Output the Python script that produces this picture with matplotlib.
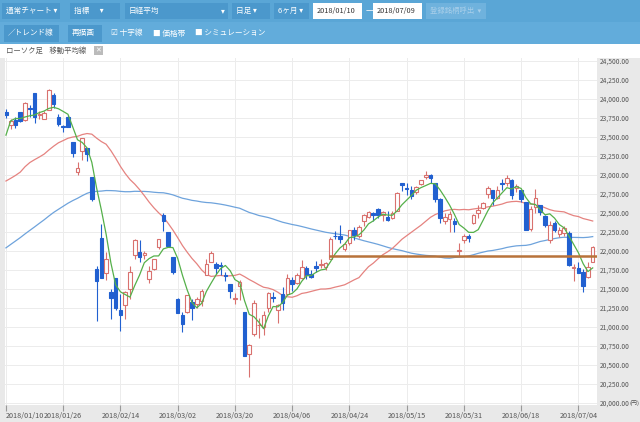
import matplotlib.pyplot as plt
from matplotlib.patches import Rectangle
import pandas as pd

plt.rcParams["font.family"] = ["Noto Sans CJK JP", "DejaVu Sans"]

# closes before the visible range (used only for the moving averages)
prior_close = [19909, 20299, 20310, 20347, 20296, 20397, 20330, 20267, 20363, 20356,
               20400, 20614, 20626, 20628, 20690, 20823, 20881, 20954, 21155, 21255,
               21336, 21363, 21448, 21457, 21696, 21805, 21707, 21739, 22008, 22011,
               22011, 22420, 22539, 22548, 22937, 22913, 22869, 22681, 22380, 22380,
               22028, 22351, 22397, 22261, 22416, 22523, 22550, 22495, 22486, 22597,
               22725, 22819, 22707, 22622, 22177, 22498, 22811, 22938, 22866, 22758,
               22694, 22553, 22901, 22868, 22891, 22866, 22902, 22939, 22892, 22911,
               22783, 22764, 23506, 23714, 23849]

opens = [23828, 23656, 23720, 23827, 23720, 23870, 24078, 23783, 23736, 23851,
         24053, 23768, 23639, 23757, 23440, 23045, 23322, 23350, 22967, 21767,
         22170, 21704, 21455, 21645, 21218, 21287, 21500, 21950, 21993, 21950,
         21630, 21760, 22050, 22470, 22250, 21915, 21370, 21160, 21200, 21325,
         21300, 21345, 21690, 21860, 21830, 21820, 21680, 21560, 21370, 21540,
         21200, 20640, 20910, 21020, 21000, 21250, 21390, 21220, 21440, 21440,
         21620, 21580, 21650, 21770, 21700, 21800, 21820, 21790, 21900, 22200,
         22200, 22030, 22100, 22270, 22200, 22400, 22450, 22500, 22550, 22470,
         22450, 22440, 22530, 22890, 22820, 22800, 22770, 22880, 22970, 23000,
         22900, 22690, 22400, 22420, 22400, 22000, 22150, 22200, 22370, 22500,
         22570, 22750, 22800, 22700, 22900, 22890, 22930, 22830, 22800, 22650,
         22290, 22580, 22600, 22460, 22150, 22370, 22220, 22240, 22240, 21780,
         21770, 21720, 21660, 21860]
highs = [23864, 23734, 23760, 23833, 23962, 23920, 24085, 23840, 23840, 24129,
         24084, 23796, 23653, 23787, 23440, 23167, 23492, 23360, 22967, 21797,
         22353, 21982, 21503, 21645, 21440, 21480, 21800, 22152, 22140, 22000,
         21800, 21900, 22160, 22500, 22250, 21915, 21380, 21195, 21417, 21375,
         21390, 21497, 21893, 22000, 21855, 21850, 21730, 21560, 21450, 21620,
         21200, 20770, 21360, 21120, 21210, 21460, 21460, 21300, 21520, 21700,
         21660, 21710, 21880, 21800, 21750, 21870, 21890, 21850, 22190, 22260,
         22340, 22120, 22280, 22310, 22340, 22490, 22530, 22510, 22560, 22530,
         22520, 22530, 22770, 22890, 22890, 22850, 22850, 22940, 23050, 23010,
         22900, 22700, 22500, 22520, 22440, 22100, 22230, 22230, 22490, 22600,
         22650, 22850, 22800, 22850, 22950, 23000, 22950, 22880, 22800, 22650,
         22590, 22810, 22600, 22480, 22400, 22390, 22320, 22330, 22260, 21830,
         21860, 21760, 21860, 22060]
lows = [23755, 23601, 23620, 23700, 23710, 23765, 23690, 23737, 23736, 23851,
        23887, 23640, 23570, 23629, 23241, 22998, 23195, 23188, 22659, 21078,
        21645, 21619, 21110, 21230, 20950, 21110, 21373, 21900, 21850, 21890,
        21580, 21750, 22030, 22269, 22068, 21700, 21180, 20937, 21190, 21087,
        21250, 21280, 21680, 21850, 21700, 21680, 21600, 21380, 21300, 21360,
        20617, 20347, 20880, 20850, 20900, 21200, 21330, 21050, 21230, 21420,
        21480, 21560, 21630, 21630, 21640, 21720, 21780, 21750, 21890, 22160,
        22100, 22000, 22080, 22150, 22170, 22330, 22440, 22400, 22440, 22400,
        22400, 22420, 22520, 22790, 22740, 22690, 22750, 22870, 22950, 22900,
        22650, 22370, 22350, 22250, 22250, 21930, 22100, 22120, 22350, 22440,
        22550, 22700, 22600, 22680, 22800, 22850, 22690, 22770, 22640, 22270,
        22260, 22500, 22470, 22320, 22100, 22250, 22180, 22200, 21800, 21600,
        21710, 21460, 21640, 21850]
closes = [23788, 23710, 23653, 23714, 23951, 23868, 23763, 23808, 23816, 24124,
          23940, 23669, 23631, 23629, 23291, 23098, 23486, 23274, 22682, 21610,
          21645, 21891, 21382, 21244, 21154, 21464, 21720, 22149, 21925, 21970,
          21736, 21892, 22153, 22389, 22068, 21724, 21182, 21042, 21417, 21253,
          21368, 21469, 21824, 21968, 21777, 21803, 21676, 21480, 21381, 21591,
          20617, 20766, 21317, 21031, 21159, 21454, 21388, 21292, 21320, 21645,
          21568, 21678, 21794, 21687, 21660, 21778, 21835, 21847, 22158, 22191,
          22162, 22088, 22278, 22215, 22319, 22467, 22508, 22472, 22467, 22508,
          22409, 22497, 22758, 22865, 22818, 22717, 22838, 22930, 23002, 22960,
          22689, 22437, 22450, 22481, 22358, 22018, 22201, 22171, 22475, 22539,
          22625, 22823, 22694, 22804, 22878, 22966, 22738, 22851, 22680, 22278,
          22555, 22693, 22516, 22338, 22342, 22271, 22270, 22304, 21811, 21785,
          21717, 21546, 21788, 22052]

tick_labels = ["2018/01/10", "2018/01/26", "2018/02/14", "2018/03/02", "2018/03/20",
               "2018/04/06", "2018/04/24", "2018/05/15", "2018/05/31", "2018/06/18",
               "2018/07/04"]
trend_level = 21930
trend_start = 68

allc = pd.Series(prior_close + closes)
n0 = len(prior_close)
ma5 = allc.rolling(5).mean().iloc[n0:].values
ma25 = allc.rolling(25).mean().iloc[n0:].values
ma75 = allc.rolling(75, min_periods=60).mean().iloc[n0:].values

fig = plt.figure(figsize=(6.4, 4.22), dpi=100)
fig.patch.set_facecolor("#e9e9e9")

def box(x, y, w, h, fc, ec="none"):
    fig.patches.append(Rectangle((x / 640, 1 - (y + h) / 422), w / 640, h / 422,
                                 transform=fig.transFigure, fc=fc, ec=ec, lw=0.6))

def txt(x, y, s, **kw):
    fig.text(x / 640, 1 - y / 422, s, va="center", **kw)

# toolbars
box(0, 0, 640, 22, "#5aa6d6")
box(0, 22, 640, 22, "#62acdb")
for x, w, s in [(2, 58, "通常チャート ▾"), (70, 50, "指標      ▾"), (125, 103, "日経平均"),
                (232, 38, "日足 ▾"), (274, 35, "6ヶ月 ▾")]:
    box(x, 3, w, 16, "#4b98cc")
    txt(x + 4, 11, s, fontsize=5.5, color="white")
txt(221, 11, "▾", fontsize=5.5, color="white")
box(313, 3, 49, 16, "white")
txt(317, 11, "2018/01/10", fontsize=5.3, color="#333333")
txt(366, 11, "—", fontsize=6, color="white")
box(373, 3, 49, 16, "white")
txt(377, 11, "2018/07/09", fontsize=5.3, color="#333333")
box(426, 3, 60, 16, "#6fb2dd")
txt(430, 11, "登録銘柄呼出  ▾", fontsize=5.3, color="#a9cfea")
box(4, 25, 55, 17, "#4b98cc")
txt(8, 33.5, "／トレンド線", fontsize=5.5, color="white")
box(68, 25, 34, 17, "#4b98cc")
txt(72, 33.5, "再描画", fontsize=5.5, color="white")
txt(111, 33.5, "☑ 十字線", fontsize=5.5, color="white")
txt(153, 33.5, "■ 価格帯", fontsize=5.5, color="white")
txt(195, 33.5, "■ シミュレーション", fontsize=5.5, color="white")
box(0, 44, 640, 14, "white")
txt(6, 51, "ローソク足    移動平均線", fontsize=5.3, color="#555555")
box(94, 46, 9, 9, "#bbbbbb")
txt(95.5, 50.5, "✕", fontsize=5, color="white")

ax = fig.add_axes([5 / 640, 17 / 422, 592 / 640, 347 / 422])
ax.set_facecolor("white")
xs = range(len(closes))
for i in xs:
    o, h, l, c = opens[i], highs[i], lows[i], closes[i]
    if c >= o:
        col = "#d9716e"
        ax.vlines(i, l, h, color=col, lw=0.8, zorder=3)
        ax.bar(i, max(c - o, 8), bottom=o, width=0.75, facecolor="white",
               edgecolor=col, lw=0.8, zorder=4)
    else:
        col = "#2160d0"
        ax.vlines(i, l, h, color=col, lw=0.8, zorder=3)
        ax.bar(i, max(o - c, 8), bottom=c, width=0.75, facecolor=col,
               edgecolor=col, lw=0.8, zorder=4)

ax.plot(xs, ma75, color="#6ea3dc", lw=0.9, zorder=2)
ax.plot(xs, ma25, color="#e58380", lw=0.9, zorder=2)
ax.plot(xs, ma5, color="#55b04a", lw=0.9, zorder=5)
ax.plot([trend_start, len(closes)], [trend_level, trend_level], color="#b8733a",
        lw=1.8, zorder=6)

ax.set_xlim(-0.2, 123.9)
ax.set_ylim(19974, 24539)
ticks = list(range(0, 12 * len(tick_labels), 12))
ax.set_xticks(ticks)
ax.set_xticklabels(tick_labels, fontsize=5.2, color="#555555")
ax.get_xticklabels()[0].set_horizontalalignment("left")
yt = list(range(20000, 24501, 250))
ax.set_yticks(yt)
ax.yaxis.tick_right()
ax.set_yticklabels([f"{v:,}.00" for v in yt], fontsize=4.8, color="#555555")
ax.tick_params(axis="y", length=0, pad=2)
ax.tick_params(axis="x", length=4, color="#999999", pad=1)
ax.grid(color="#ececec", lw=0.7)
for s in ax.spines.values():
    s.set_visible(False)
ax.set_axisbelow(True)
txt(630, 403, "(円)", fontsize=4.3, color="#555555")

fig.savefig("out.png", dpi=100, facecolor=fig.get_facecolor())
